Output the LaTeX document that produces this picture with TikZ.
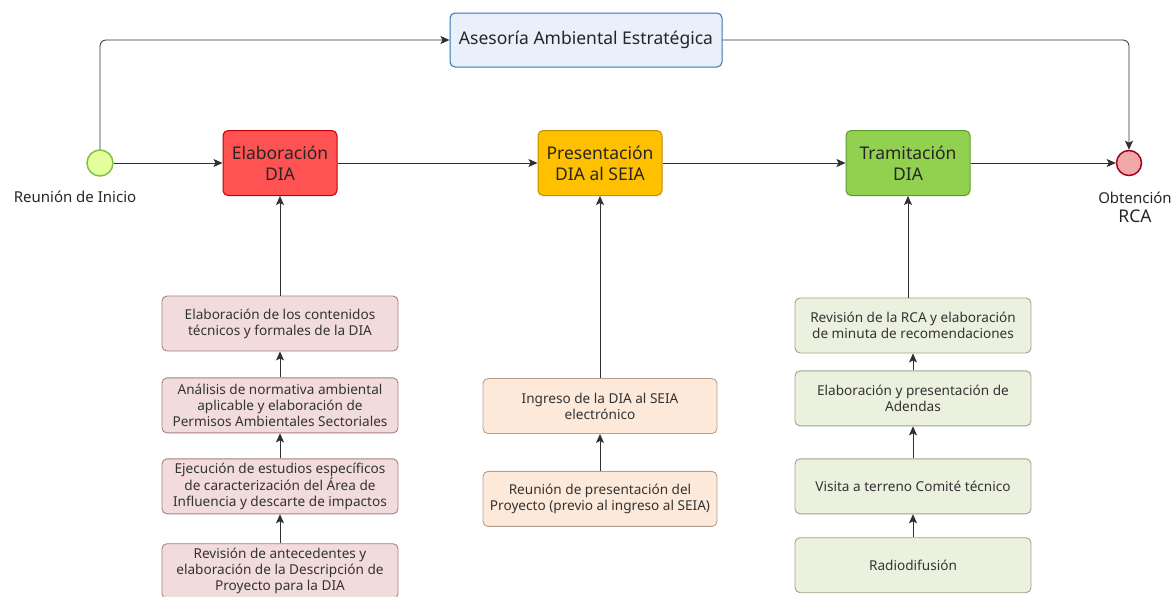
\documentclass[tikz,border=0pt]{standalone}
\usepackage{fontspec}
\setmainfont{Noto Sans}
\usetikzlibrary{arrows.meta,positioning}
\definecolor{asesFill}{HTML}{E9EFFB}
\definecolor{asesLine}{HTML}{2E75B6}
\definecolor{elabFill}{HTML}{FF5252}
\definecolor{elabLine}{HTML}{C00000}
\definecolor{presFill}{HTML}{FFC000}
\definecolor{presLine}{HTML}{BF8F00}
\definecolor{tramFill}{HTML}{92D050}
\definecolor{tramLine}{HTML}{5B9B2B}
\definecolor{iniFill}{HTML}{E5FF9C}
\definecolor{iniLine}{HTML}{7DC242}
\definecolor{finFill}{HTML}{F0A8A8}
\definecolor{finLine}{HTML}{A50021}
\definecolor{subElabFill}{HTML}{F2DCDB}
\definecolor{subElabLine}{HTML}{A88080}
\definecolor{subPresFill}{HTML}{FDE9D9}
\definecolor{subPresLine}{HTML}{B8A090}
\definecolor{subTramFill}{HTML}{EBF1DE}
\definecolor{subTramLine}{HTML}{9AA88A}
\definecolor{lineGray}{HTML}{303030}

\begin{document}
\begin{tikzpicture}[
  x=1pt, y=-1pt,
  font=\fontsize{15}{18}\selectfont,
  phase/.style={draw, rounded corners=5pt, align=center, line width=1pt, minimum height=65pt, text=black!85, font=\fontsize{17.5}{21}\selectfont},
  task/.style={draw, rounded corners=5pt, align=center, line width=0.9pt, minimum width=236pt, minimum height=55pt, text=black!80, font=\fontsize{13.6}{16}\selectfont, inner sep=2pt},
  elabtask/.style={task, fill=subElabFill, draw=subElabLine},
  prestask/.style={task, fill=subPresFill, draw=subPresLine},
  tramtask/.style={task, fill=subTramFill, draw=subTramLine},
  event/.style={circle, draw, line width=1.5pt, inner sep=0pt},
  flow/.style={-{Stealth[length=9pt, width=8pt, inset=2pt]}, draw=lineGray, line width=0.8pt},
]
\useasboundingbox (0,0) rectangle (1176,597);

% main line
\node[event, fill=iniFill, draw=iniLine, minimum size=26pt] (inicio) at (100,163) {};
\node[text=black!85, below=11pt of inicio, xshift=-25pt] (inicioLbl) {Reunión de Inicio};
\node[phase, fill=elabFill, draw=elabLine, minimum width=114pt] (elab) at (280,163) {Elaboración\\DIA};
\node[phase, fill=presFill, draw=presLine, minimum width=124pt] (pres) at (600,163) {Presentación\\DIA al SEIA};
\node[phase, fill=tramFill, draw=tramLine, minimum width=124pt] (tram) at (908,163) {Tramitación\\DIA};
\node[event, fill=finFill, draw=finLine, minimum size=25pt] (fin) at (1129,163) {};
\node[text=black!85, below=12pt of fin, xshift=6pt, align=center] (finLbl) {Obtención\\[1pt]{\fontsize{17.5}{21}\selectfont RCA}};

\node[phase, fill=asesFill, draw=asesLine, minimum width=272pt, minimum height=54pt] (ases) at (586,40) {Asesoría Ambiental Estratégica};

\draw[flow] (inicio) -- (elab);
\draw[flow] (elab) -- (pres);
\draw[flow] (pres) -- (tram);
\draw[flow] (tram) -- (fin);
\draw[flow, rounded corners=6pt] (inicio.north) |- (ases.west);
\draw[flow, rounded corners=6pt] (ases.east) -| (fin.north);

% Elaboracion DIA
\node[elabtask] (elabA) at (280,323.5) {Elaboración de los contenidos\\técnicos y formales de la DIA};
\node[elabtask, below=26pt of elabA] (elabB) {Análisis de normativa ambiental\\aplicable y elaboración de\\Permisos Ambientales Sectoriales};
\node[elabtask, below=25pt of elabB] (elabC) {Ejecución de estudios específicos\\de caracterización del Área de\\Influencia y descarte de impactos};
\node[elabtask, below=29pt of elabC] (elabD) {Revisión de antecedentes y\\elaboración de la Descripción de\\Proyecto para la DIA};
\draw[flow] (elabD) -- (elabC);
\draw[flow] (elabC) -- (elabB);
\draw[flow] (elabB) -- (elabA);
\draw[flow] (elabA) -- (elab);

% Presentacion DIA
\node[prestask, minimum width=234pt] (presA) at (600,406) {Ingreso de la DIA al SEIA\\electrónico};
\node[prestask, minimum width=234pt, below=37pt of presA] (presB) {Reunión de presentación del\\Proyecto (previo al ingreso al SEIA)};
\draw[flow] (presB) -- (presA);
\draw[flow] (presA) -- (pres);

% Tramitacion DIA
\node[tramtask] (tramA) at (913,325.5) {Revisión de la RCA y elaboración\\de minuta de recomendaciones};
\node[tramtask, below=17pt of tramA] (tramB) {Elaboración y presentación de\\Adendas};
\node[tramtask, below=32pt of tramB] (tramC) {Visita a terreno Comité técnico};
\node[tramtask, below=23pt of tramC] (tramD) {Radiodifusión};
\draw[flow] (tramD) -- (tramC);
\draw[flow] (tramC) -- (tramB);
\draw[flow] (tramB) -- (tramA);
\draw[flow] (tramA.north -| tram) -- (tram);
\end{tikzpicture}
\end{document}
